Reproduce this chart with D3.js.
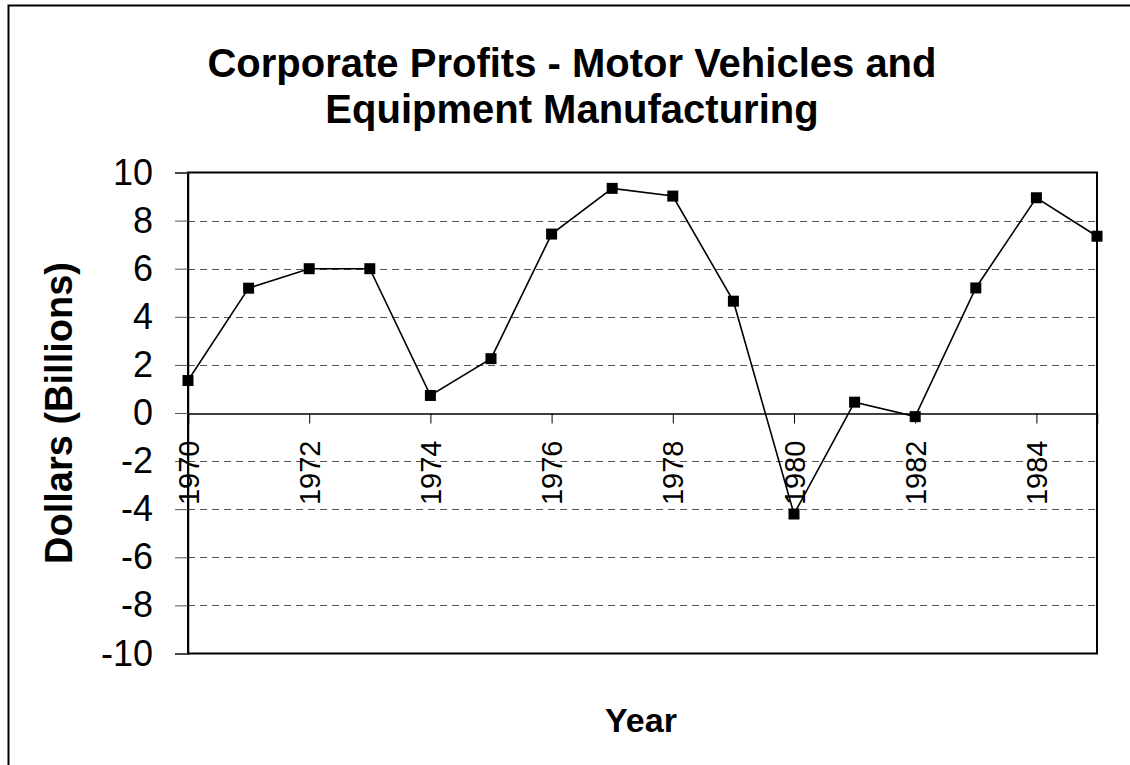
<!DOCTYPE html>
<html>
<head>
<meta charset="utf-8">
<script src="https://cdn.jsdelivr.net/npm/d3@7"></script>
<style>
	body { margin: 0; background: #fff; }
	text { font-family: "Liberation Sans", Arial, sans-serif; fill: #000; }
</style>
</head>
<body>
<div id="chart"></div>
<script>
// data
var years = [1970, 1971, 1972, 1973, 1974, 1975, 1976, 1977, 1978, 1979, 1980, 1981, 1982, 1983, 1984, 1985];
var profits = [1.35, 5.19, 6.0, 6.0, 0.73, 2.26, 7.44, 9.34, 9.02, 4.65, -4.2, 0.45, -0.15, 5.2, 8.95, 7.35];
var yTicks = [-10, -8, -6, -4, -2, 0, 2, 4, 6, 8, 10];
var xTicks = [1970, 1972, 1974, 1976, 1978, 1980, 1982, 1984];
var titleLines = ["Corporate Profits - Motor Vehicles and", "Equipment Manufacturing"];

var width = 1130, height = 765;
var m = {left: 188, top: 172, right: 33, bottom: 112};

var svg = d3.select("#chart").append("svg")
	.attr("width", width)
	.attr("height", height);

// outer frame (runs off the bottom/right like the source)
svg.append("rect")
	.attr("x", 8.5).attr("y", 5.5)
	.attr("width", width + 20).attr("height", height + 20)
	.attr("fill", "#fff")
	.attr("stroke", "#000")
	.attr("stroke-width", 2);

var x = d3.scaleLinear().domain([1970, 1985]).range([m.left, width - m.right]);
var y = d3.scaleLinear().domain([-10, 10]).range([height - m.bottom + 0.5, m.top + 0.5]);

// title
svg.append("g").selectAll("text")
	.data(titleLines)
	.enter().append("text")
	.attr("x", 572)
	.attr("y", function(d, i) { return 77 + i * 46; })
	.attr("text-anchor", "middle")
	.attr("font-size", 40)
	.attr("font-weight", "bold")
	.text(function(d) { return d; });

// gridlines
svg.append("g").selectAll("line")
	.data(yTicks.filter(function(d) { return d !== 0 && d !== 10 && d !== -10; }))
	.enter().append("line")
	.attr("x1", x(1970)).attr("x2", x(1985))
	.attr("y1", function(d) { return Math.round(y(d)) + 0.5; })
	.attr("y2", function(d) { return Math.round(y(d)) + 0.5; })
	.attr("stroke", "#555")
	.attr("stroke-dasharray", "7,5");

// plot frame
svg.append("rect")
	.attr("x", x(1970)).attr("y", y(10))
	.attr("width", x(1985) - x(1970))
	.attr("height", y(-10) - y(10))
	.attr("fill", "none")
	.attr("stroke", "#000")
	.attr("stroke-width", 2);

// y axis (plain hyphen for negatives, like the source)
var yAxis = d3.axisLeft(y).tickValues(yTicks).tickSize(13).tickPadding(22)
	.tickFormat(function(d) { return String(d); });
var gy = svg.append("g")
	.attr("transform", "translate(" + x(1970) + ",0)")
	.call(yAxis);
gy.select(".domain").attr("stroke", "#000").attr("stroke-width", 1.5);
gy.selectAll(".tick line").attr("stroke", "#555");
gy.selectAll(".tick text")
	.attr("font-size", 36)
	.attr("font-family", "Liberation Sans, Arial, sans-serif")
	.attr("fill", "#000");

// x axis along zero
var xAxis = d3.axisBottom(x).tickValues(xTicks).tickSize(10).tickFormat(d3.format("d"));
var gx = svg.append("g")
	.attr("transform", "translate(0," + (Math.round(y(0)) + 0.5) + ")")
	.call(xAxis);
gx.select(".domain").attr("stroke", "#000").attr("stroke-width", 1.5);
gx.selectAll(".tick line").attr("stroke", "#000");
gx.selectAll(".tick text")
	.attr("font-size", 29)
	.attr("font-family", "Liberation Sans, Arial, sans-serif")
	.attr("fill", "#000")
	.attr("text-anchor", "end")
	.attr("transform", "rotate(-90)")
	.attr("x", -27)
	.attr("y", 0)
	.attr("dy", "0.35em");

// line
var line = d3.line()
	.x(function(d, i) { return x(years[i]); })
	.y(function(d) { return y(d); });

svg.append("path")
	.datum(profits)
	.attr("d", line)
	.attr("fill", "none")
	.attr("stroke", "#000")
	.attr("stroke-width", 1.6);

// markers
svg.append("g").selectAll("rect")
	.data(profits)
	.enter().append("rect")
	.attr("x", function(d, i) { return x(years[i]) - 5.5; })
	.attr("y", function(d) { return y(d) - 5.5; })
	.attr("width", 11)
	.attr("height", 11)
	.attr("fill", "#000");

// axis titles
svg.append("text")
	.attr("transform", "translate(72,413) rotate(-90)")
	.attr("text-anchor", "middle")
	.attr("font-size", 38)
	.attr("font-weight", "bold")
	.text("Dollars (Billions)");

svg.append("text")
	.attr("x", 641)
	.attr("y", 732)
	.attr("text-anchor", "middle")
	.attr("font-size", 34)
	.attr("font-weight", "bold")
	.text("Year");
</script>
</body>
</html>
